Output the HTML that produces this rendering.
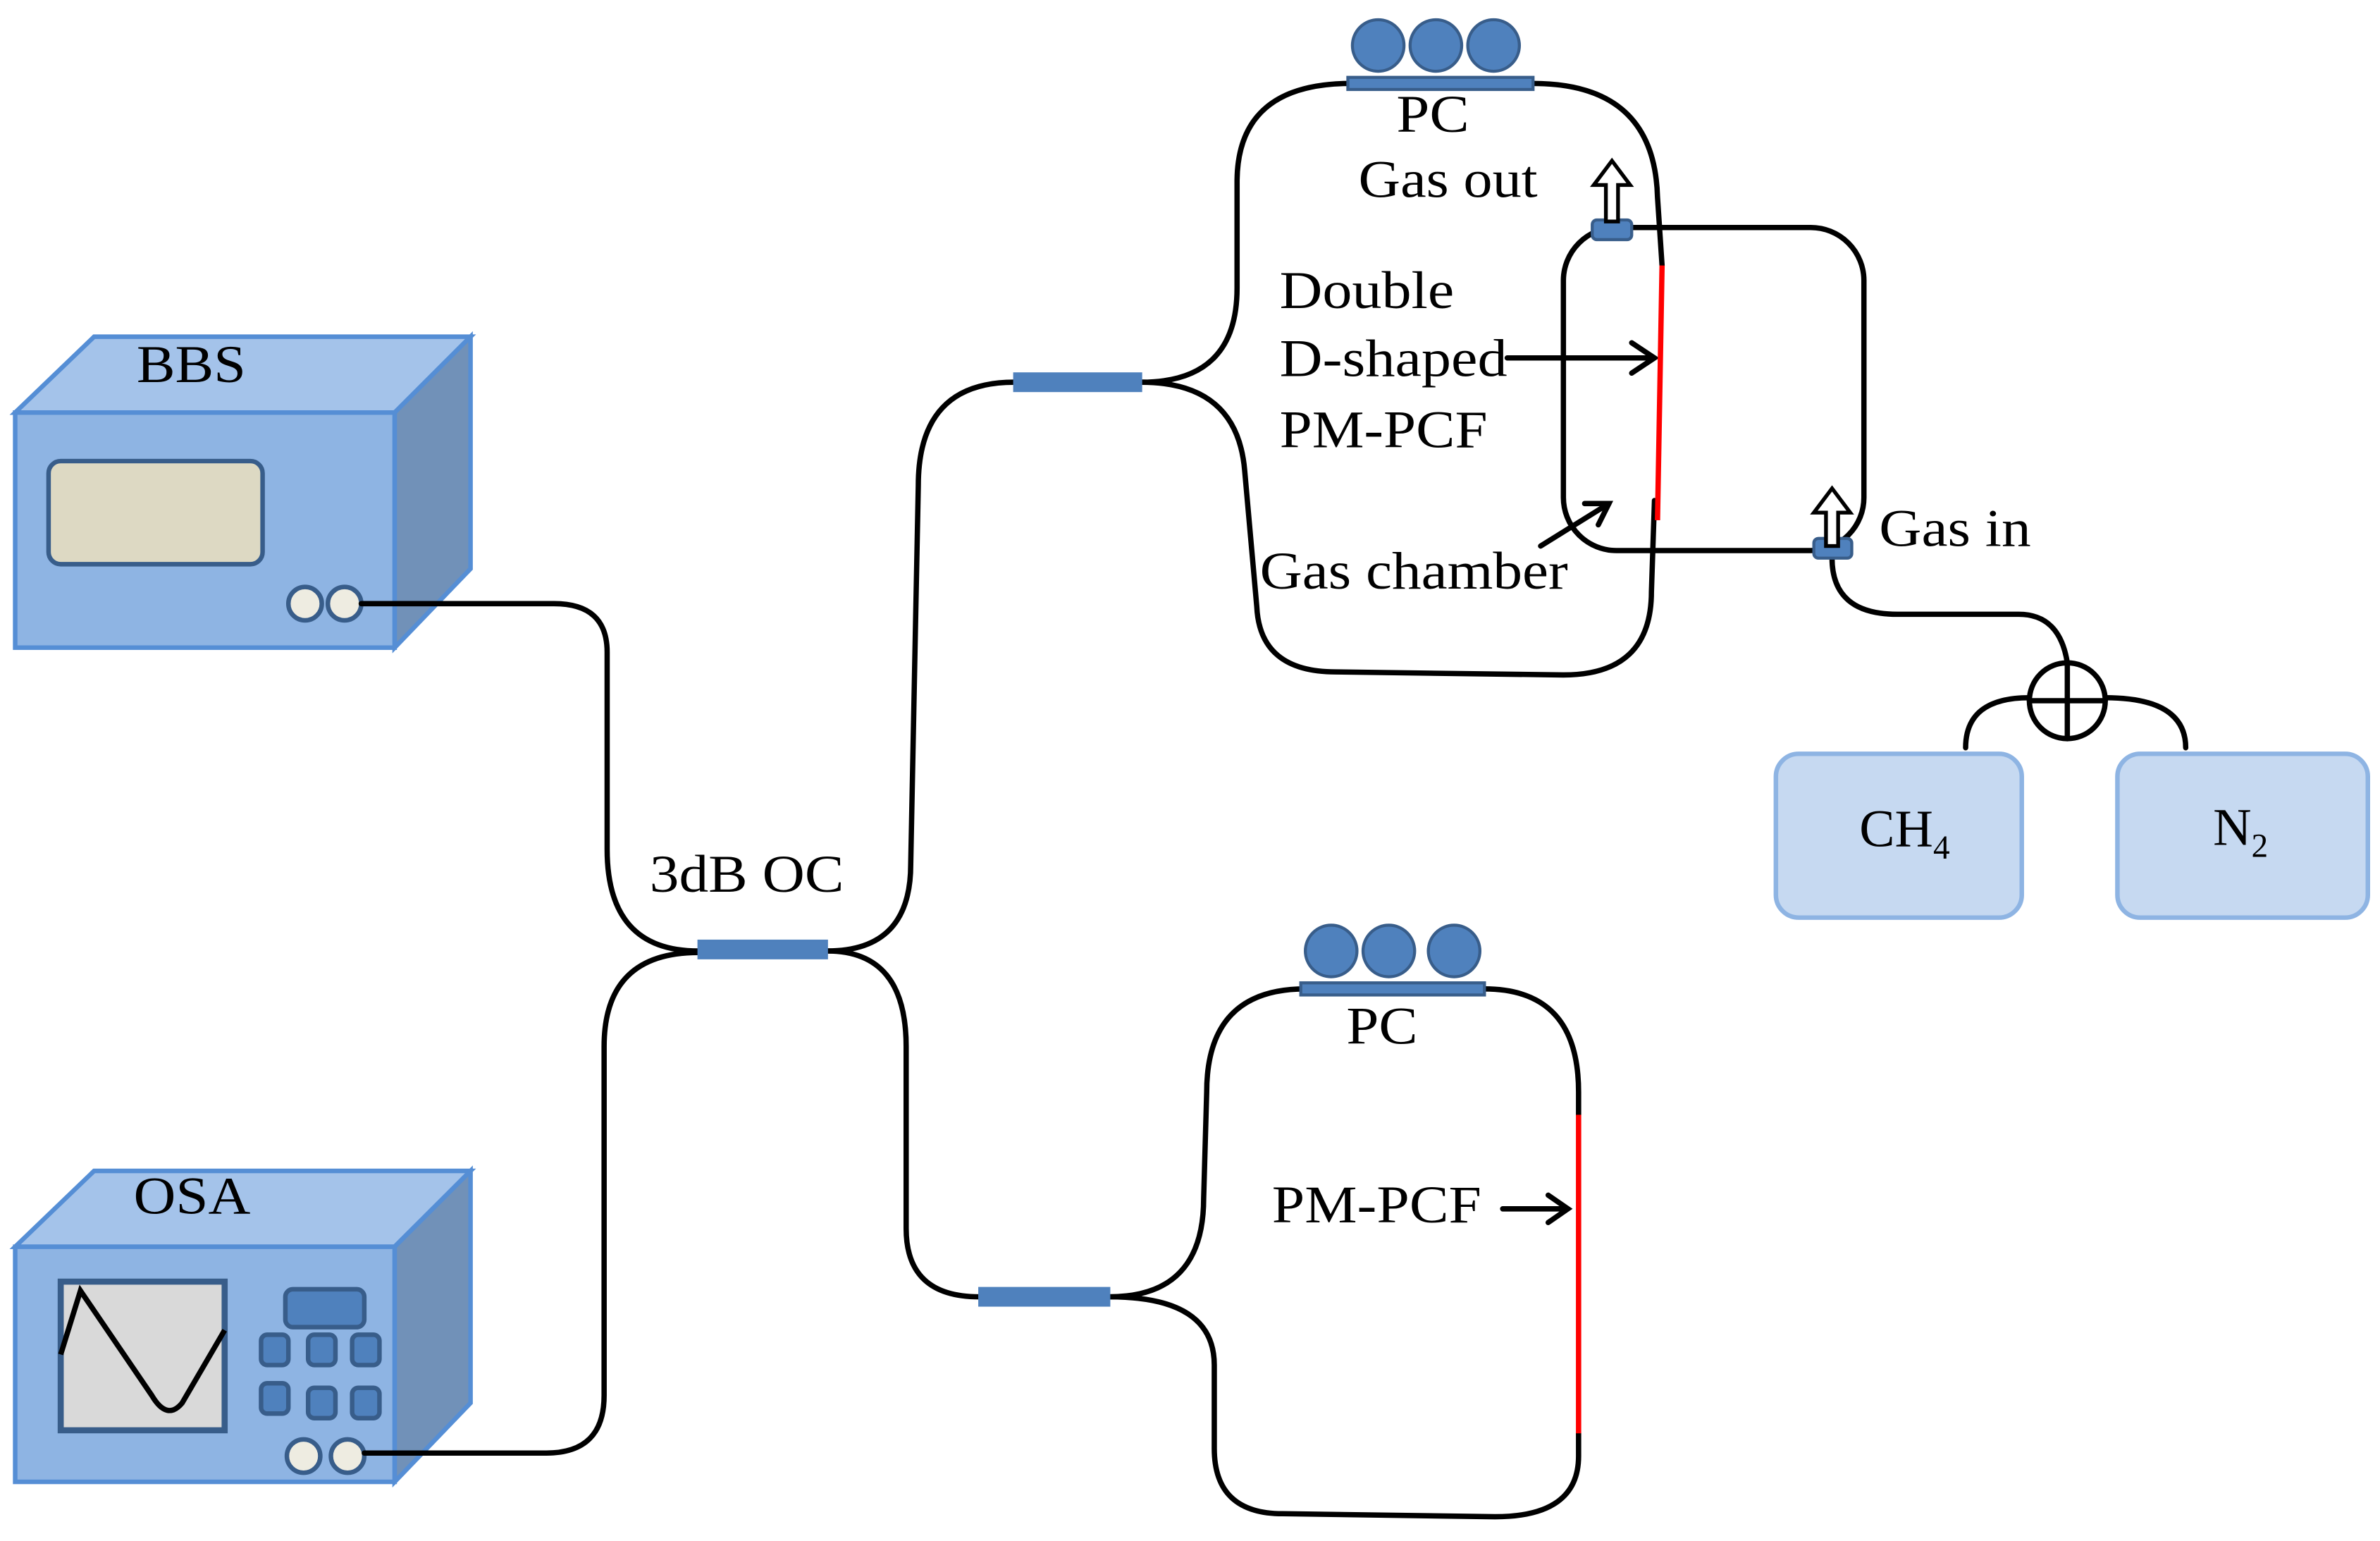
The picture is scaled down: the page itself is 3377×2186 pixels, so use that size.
<!DOCTYPE html>
<html><head><meta charset="utf-8"><style>
html,body{margin:0;padding:0;background:#fff;}
svg{display:block;}
text{font-family:"Liberation Serif",serif;font-size:35px;fill:#000;}
</style></head><body>
<svg width="3377" height="2186" viewBox="0 0 1568 1016" preserveAspectRatio="none" xmlns="http://www.w3.org/2000/svg">
<g stroke="#558ed5" stroke-width="3" stroke-linejoin="miter">
<polygon points="10,272 62,222 310,222 260,272" fill="#a4c3ea"/>
<polygon points="260,272 310,222 310,375 260,427" fill="#7191b8"/>
<rect x="10" y="272" width="250" height="155" fill="#8eb4e3"/>
</g>
<rect x="32" y="304" width="141" height="68" rx="8" fill="#ddd9c3" stroke="#385d8a" stroke-width="3"/>
<circle cx="201" cy="398" r="11" fill="#eeece1" stroke="#385d8a" stroke-width="3"/>
<circle cx="227" cy="398" r="11" fill="#eeece1" stroke="#385d8a" stroke-width="3"/>
<g stroke="#558ed5" stroke-width="3">
<polygon points="10,822 62,772 310,772 260,822" fill="#a4c3ea"/>
<polygon points="260,822 310,772 310,925 260,977" fill="#7191b8"/>
<rect x="10" y="822" width="250" height="155" fill="#8eb4e3"/>
</g>
<rect x="40" y="845" width="108" height="98" fill="#d9d9d9" stroke="#385d8a" stroke-width="4"/>
<path d="M40,893 L53,851 L100,920 Q110,937 120,925 L148,877" fill="none" stroke="#000" stroke-width="3.5"/>
<g fill="#4f81bd" stroke="#385d8a" stroke-width="3">
<rect x="188" y="850" width="52" height="25" rx="5"/>
<rect x="172" y="880" width="18" height="20" rx="4"/><rect x="203" y="880" width="18" height="20" rx="4"/><rect x="232" y="880" width="18" height="20" rx="4"/>
<rect x="172" y="912" width="18" height="20" rx="4"/><rect x="203" y="915" width="18" height="20" rx="4"/><rect x="232" y="915" width="18" height="20" rx="4"/>
</g>
<circle cx="200" cy="960" r="11" fill="#eeece1" stroke="#385d8a" stroke-width="3"/>
<circle cx="229" cy="960" r="11" fill="#eeece1" stroke="#385d8a" stroke-width="3"/>
<rect x="1170" y="497" width="162" height="108" rx="15" fill="#c6d9f1" stroke="#8eb4e3" stroke-width="3"/>
<rect x="1395" y="497" width="165" height="108" rx="15" fill="#c6d9f1" stroke="#8eb4e3" stroke-width="3"/>
<g fill="none" stroke="#000" stroke-width="3.5" stroke-linecap="round">
<path d="M238,398 H365 Q400,398 400,430 V560 Q400,627 460,627"/>
<path d="M240,958 H360 Q398,958 398,920 V690 Q398,628 460,628"/>
<path d="M545,627 Q600,627 600,570 L605,320 Q605,252 668,252"/>
<path d="M545,627 Q597,627 597,690 V810 Q597,855 645,855"/>
<path d="M752,252 Q815,252 815,190 V120 Q815,55 890,55"/>
<path d="M1010,55 Q1090,55 1092,130 L1095,175"/>
<path d="M1090,330 L1088,390 Q1088,445 1030,445 L880,443 Q830,443 828,400 L820,310 Q815,252 752,252"/>
<rect x="1030" y="150" width="198" height="213" rx="35"/>
<path d="M1207,368 Q1207,405 1250,405 H1330 Q1357,405 1362,437"/>
<path d="M1295,493 Q1295,460 1337,460 M1387,460 Q1440,460 1440,493"/>
<circle cx="1362" cy="462" r="25"/>
<path d="M1337,462 H1387 M1362,437 V487"/>
<path d="M731,855 Q793,855 793,790 L795,720 Q795,652 860,652"/>
<path d="M978,652 Q1040,652 1040,720 V735"/>
<path d="M1040,945 V960 Q1040,1000 985,1000 L845,998 Q800,998 800,955 V900 Q800,855 731,855"/>
<path d="M993,236 H1090 M1075,226 L1090,236 L1075,246"/>
<path d="M1015,360 L1060,332 M1044,332 L1060,332 L1053,346"/>
<path d="M990,797 H1033 M1020,788 L1033,797 L1020,806"/>
</g>
<path d="M1095,175 L1092,343" stroke="#ff0000" stroke-width="3.5"/>
<path d="M1040,735 V945" stroke="#ff0000" stroke-width="3.5"/>
<g fill="#4f81bd" stroke="#4f81bd">
<rect x="460" y="620" width="85" height="12"/>
<rect x="668" y="246" width="84" height="12"/>
<rect x="645" y="849" width="86" height="12"/>
</g>
<g fill="#4f81bd" stroke="#385d8a" stroke-width="2">
<rect x="888" y="51" width="122" height="8"/>
<circle cx="908" cy="30" r="17"/><circle cx="946" cy="30" r="17"/><circle cx="984" cy="30" r="17"/>
<rect x="857" y="648" width="121" height="8"/>
<circle cx="877" cy="627" r="17"/><circle cx="915" cy="627" r="17"/><circle cx="958" cy="627" r="17"/>
<rect x="1049" y="145" width="26" height="13" rx="3"/>
<rect x="1195" y="355" width="25" height="13" rx="3"/>
</g>
<g fill="#fff" stroke="#000" stroke-width="2.5">
<path d="M1058,146 V122 H1050 L1062,106 L1074,122 H1066 V146 Z"/>
<path d="M1203,360 V338 H1195 L1207,322 L1219,338 H1211 V360 Z"/>
</g>
<text x="90" y="252" textLength="72" lengthAdjust="spacingAndGlyphs">BBS</text>
<text x="88" y="800" textLength="77" lengthAdjust="spacingAndGlyphs">OSA</text>
<text x="428" y="588" textLength="128" lengthAdjust="spacingAndGlyphs">3dB OC</text>
<text x="920" y="87" textLength="48" lengthAdjust="spacingAndGlyphs">PC</text>
<text x="895" y="130" textLength="118" lengthAdjust="spacingAndGlyphs">Gas out</text>
<text x="843" y="203" textLength="115" lengthAdjust="spacingAndGlyphs">Double</text>
<text x="843" y="248" textLength="150" lengthAdjust="spacingAndGlyphs">D-shaped</text>
<text x="843" y="295" textLength="137" lengthAdjust="spacingAndGlyphs">PM-PCF</text>
<text x="830" y="388" textLength="203" lengthAdjust="spacingAndGlyphs">Gas chamber</text>
<text x="1238" y="360" textLength="100" lengthAdjust="spacingAndGlyphs">Gas in</text>
<text x="887" y="688" textLength="47" lengthAdjust="spacingAndGlyphs">PC</text>
<text x="838" y="806" textLength="138" lengthAdjust="spacingAndGlyphs">PM-PCF</text>
<text x="1225" y="558">CH<tspan style="font-size:22px" dy="8">4</tspan></text>
<text x="1458" y="557">N<tspan style="font-size:22px" dy="8">2</tspan></text>
</svg>
</body></html>
